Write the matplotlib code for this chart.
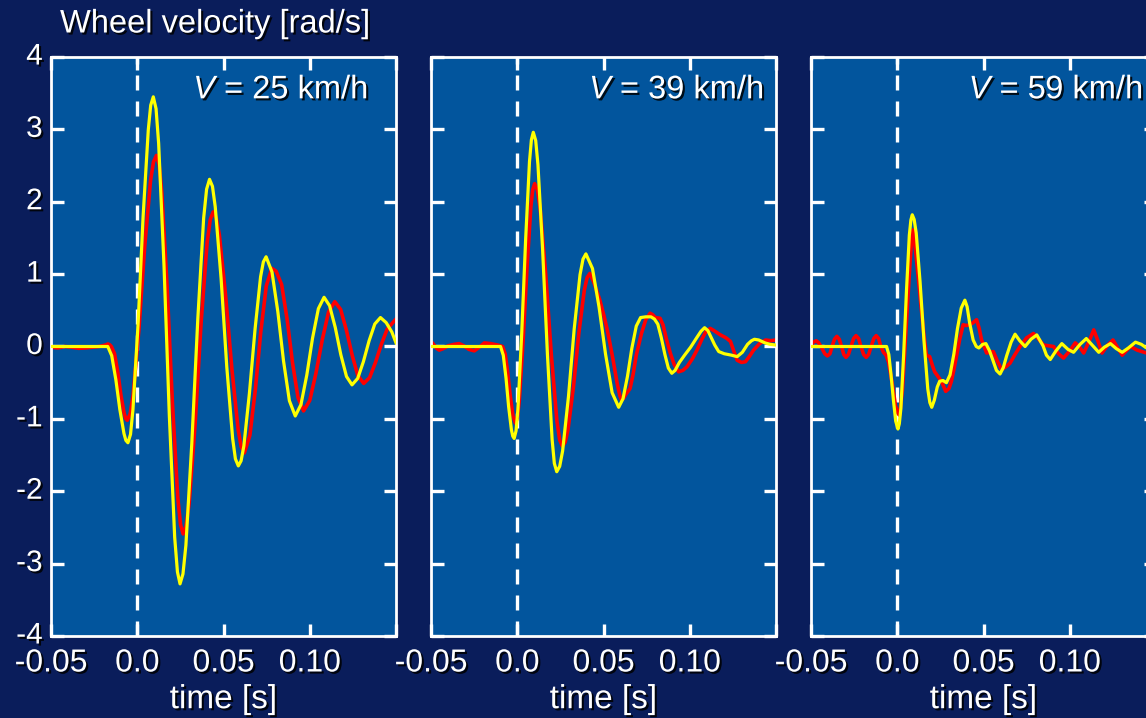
import numpy as np
import matplotlib
matplotlib.use('Agg')
import matplotlib.pyplot as plt
import matplotlib.patheffects as pe
import matplotlib.transforms as mtrans

plt.rcParams['font.family'] = ['Liberation Sans', 'DejaVu Sans']
plt.rcParams['mathtext.fontset'] = 'custom'
plt.rcParams['mathtext.rm'] = 'Liberation Sans'
plt.rcParams['mathtext.it'] = 'Liberation Sans:italic'

# speed of each panel [km/h]
speeds = [25, 39, 59]

# (time [s], wheel velocity [rad/s])
red_25 = np.array([
    (-0.05, -0.01), (-0.046, -0.02), (-0.042, 0.0), (-0.038, -0.01), (-0.034, -0.025),
    (-0.03, -0.02), (-0.026, -0.01), (-0.022, 0.0), (-0.0185, 0.02), (-0.017, 0.035),
    (-0.016, 0.025), (-0.015, 0.0), (-0.0132, -0.097), (-0.0113, -0.352), (-0.0095, -0.668),
    (-0.0076, -0.923), (-0.0067, -0.995), (-0.0058, -1.02), (-0.0041, -0.93), (-0.0024, -0.67),
    (0.001, 0.245), (0.0043, 1.375), (0.0077, 2.291), (0.0094, 2.55), (0.0111, 2.64),
    (0.0127, 2.512), (0.0142, 2.141), (0.0173, 0.833), (0.0204, -0.783), (0.0235, -2.091),
    (0.0251, -2.462), (0.0266, -2.59), (0.0283, -2.481), (0.0301, -2.165), (0.0336, -1.053),
    (0.037, 0.323), (0.0405, 1.435), (0.0423, 1.751), (0.044, 1.86), (0.0458, 1.778),
    (0.0476, 1.542), (0.0512, 0.709), (0.0549, -0.319), (0.0585, -1.152), (0.0603, -1.388),
    (0.0621, -1.47), (0.0653, -1.226), (0.0685, -0.589), (0.0716, 0.199), (0.0748, 0.836),
    (0.078, 1.08), (0.0805, 1.04), (0.0837, 0.856), (0.0869, 0.373), (0.09, -0.223),
    (0.0932, -0.706), (0.0964, -0.89), (0.1, -0.746), (0.1036, -0.368), (0.1073, 0.098),
    (0.1109, 0.476), (0.1145, 0.62), (0.1179, 0.512), (0.1212, 0.23), (0.1246, -0.12),
    (0.1279, -0.402), (0.1313, -0.51), (0.1347, -0.43), (0.1381, -0.22), (0.1415, 0.03),
    (0.1449, 0.24), (0.15, 0.38)])
yel_25 = np.array([
    (-0.05, 0.0), (-0.03, 0.0), (-0.0171, 0.0), (-0.0148, -0.127), (-0.0124, -0.46),
    (-0.0101, -0.87), (-0.0077, -1.203), (-0.0066, -1.297), (-0.0054, -1.33), (-0.0039, -1.213),
    (-0.0025, -0.874), (0.0005, 0.321), (0.0034, 1.799), (0.0064, 2.994), (0.0078, 3.333),
    (0.0093, 3.45), (0.0109, 3.285), (0.0124, 2.807), (0.0155, 1.125), (0.0186, -0.955),
    (0.0217, -2.637), (0.0233, -3.115), (0.0248, -3.28), (0.0265, -3.143), (0.0282, -2.746),
    (0.0316, -1.349), (0.0351, 0.379), (0.0385, 1.776), (0.0402, 2.173), (0.0419, 2.31),
    (0.0436, 2.213), (0.0452, 1.932), (0.0486, 0.942), (0.0519, -0.282), (0.0553, -1.272),
    (0.0569, -1.553), (0.0586, -1.65), (0.0602, -1.579), (0.0618, -1.374), (0.065, -0.652),
    (0.0683, 0.242), (0.0715, 0.964), (0.0731, 1.169), (0.0747, 1.24), (0.0781, 1.03),
    (0.0815, 0.48), (0.0848, -0.2), (0.0882, -0.75), (0.0916, -0.96), (0.0949, -0.803),
    (0.0983, -0.393), (0.1016, 0.113), (0.105, 0.523), (0.1083, 0.68), (0.1115, 0.564),
    (0.1148, 0.262), (0.118, -0.112), (0.1213, -0.414), (0.1245, -0.53), (0.1278, -0.441),
    (0.1311, -0.209), (0.1344, 0.079), (0.1377, 0.311), (0.141, 0.40), (0.1443, 0.33),
    (0.1476, 0.2), (0.15, 0.05)])

red_39 = np.array([
    (-0.05, 0.07), (-0.0485, 0.03), (-0.0465, -0.03), (-0.0452, -0.05), (-0.043, -0.03),
    (-0.04, 0.01), (-0.0365, 0.03), (-0.0336, 0.04), (-0.031, 0.01), (-0.028, -0.04),
    (-0.0249, -0.06), (-0.022, -0.01), (-0.019, 0.05), (-0.0155, 0.04), (-0.0113, 0.02),
    (-0.0085, 0.0), (-0.007, -0.101), (-0.0055, -0.366), (-0.004, -0.694), (-0.0025, -0.959),
    (-0.001, -1.06), (0.0001, -0.979), (0.0012, -0.744), (0.0034, 0.084), (0.0057, 1.106),
    (0.0079, 1.934), (0.009, 2.169), (0.0101, 2.25), (0.0117, 2.161), (0.0133, 1.903),
    (0.0165, 0.996), (0.0198, -0.126), (0.023, -1.033), (0.0246, -1.291), (0.0262, -1.38),
    (0.0278, -1.321), (0.0294, -1.152), (0.0326, -0.554), (0.0357, 0.184), (0.0389, 0.782),
    (0.0405, 0.951), (0.0421, 1.01), (0.0445, 0.88), (0.0465, 0.74), (0.0479, 0.64),
    (0.05, 0.45), (0.0518, 0.27), (0.0537, 0.05), (0.0556, -0.19), (0.058, -0.52),
    (0.0595, -0.68), (0.0605, -0.74), (0.0615, -0.72), (0.063, -0.66), (0.0654, -0.58),
    (0.0672, -0.38), (0.069, -0.12), (0.0702, 0.0), (0.072, 0.18), (0.0745, 0.37),
    (0.077, 0.46), (0.0785, 0.44), (0.08, 0.40), (0.0828, 0.39), (0.0845, 0.3),
    (0.0865, 0.1), (0.0887, -0.09), (0.091, -0.25), (0.0935, -0.35), (0.096, -0.33),
    (0.0984, -0.28), (0.1015, -0.17), (0.1042, -0.05), (0.107, 0.1), (0.1095, 0.21),
    (0.1119, 0.25), (0.114, 0.22), (0.1178, 0.16), (0.121, 0.12), (0.1236, 0.07),
    (0.1255, -0.06), (0.1275, -0.19), (0.13, -0.22), (0.1323, -0.21), (0.1345, -0.14),
    (0.137, -0.05), (0.1405, 0.04), (0.144, 0.09), (0.147, 0.08), (0.15, 0.09)])
yel_39 = np.array([
    (-0.05, 0.0), (-0.03, 0.0), (-0.0097, 0.0), (-0.0081, -0.121), (-0.0065, -0.439),
    (-0.005, -0.831), (-0.0034, -1.149), (-0.0026, -1.239), (-0.0018, -1.27), (-0.0007, -1.166),
    (0.0004, -0.866), (0.0026, 0.191), (0.0049, 1.498), (0.0071, 2.556), (0.0082, 2.856),
    (0.0093, 2.96), (0.0107, 2.845), (0.012, 2.512), (0.0147, 1.34), (0.0175, -0.11),
    (0.0202, -1.282), (0.0215, -1.615), (0.0229, -1.73), (0.0246, -1.656), (0.0263, -1.443),
    (0.0297, -0.69), (0.033, 0.24), (0.0364, 0.993), (0.0381, 1.206), (0.0398, 1.28),
    (0.0436, 1.078), (0.0474, 0.548), (0.0512, -0.108), (0.055, -0.638), (0.0588, -0.84),
    (0.0613, -0.722), (0.0639, -0.412), (0.0664, -0.028), (0.069, 0.282), (0.0715, 0.40),
    (0.0745, 0.41), (0.0775, 0.41), (0.0795, 0.38), (0.0815, 0.308), (0.0835, 0.121),
    (0.0856, -0.111), (0.0876, -0.298), (0.0896, -0.37), (0.0915, -0.33), (0.094, -0.22),
    (0.097, -0.12), (0.1005, -0.01), (0.104, 0.12), (0.1065, 0.21), (0.1086, 0.26),
    (0.1105, 0.22), (0.1125, 0.12), (0.1145, 0.02), (0.1168, -0.07), (0.12, -0.1),
    (0.1242, -0.12), (0.1275, -0.14), (0.1305, -0.08), (0.1335, 0.03), (0.1358, 0.08),
    (0.1375, 0.10), (0.14, 0.09), (0.1436, 0.05), (0.1465, 0.03), (0.15, 0.02)])

red_59 = np.array([
    (-0.05, 0.02), (-0.0485, 0.06), (-0.047, 0.08), (-0.0455, 0.05), (-0.0438, -0.02),
    (-0.042, -0.10), (-0.0405, -0.13), (-0.039, -0.10), (-0.0378, 0.0), (-0.0364, 0.10),
    (-0.035, 0.14), (-0.0336, 0.10), (-0.0323, 0.0), (-0.031, -0.11), (-0.0297, -0.15),
    (-0.0283, -0.11), (-0.0268, 0.0), (-0.0253, 0.11), (-0.0239, 0.15), (-0.0224, 0.11),
    (-0.021, 0.0), (-0.0195, -0.11), (-0.018, -0.15), (-0.0166, -0.11), (-0.0151, 0.0),
    (-0.0136, 0.11), (-0.0122, 0.15), (-0.0108, 0.11), (-0.0095, 0.0), (-0.008, -0.08),
    (-0.0065, -0.12), (-0.005, -0.22), (-0.003, -0.5), (-0.001, -0.82), (0.0005, -0.93),
    (0.0014, -0.95), (0.003, -0.6), (0.0045, 0.0), (0.006, 0.6), (0.0075, 1.2),
    (0.0085, 1.52), (0.0091, 1.61), (0.0105, 1.35), (0.0122, 0.95), (0.014, 0.51),
    (0.0155, 0.15), (0.0169, -0.12), (0.0188, -0.14), (0.0205, -0.27), (0.0217, -0.35),
    (0.0256, -0.48), (0.0281, -0.62), (0.03, -0.58), (0.0314, -0.48), (0.033, -0.3),
    (0.0343, -0.14), (0.0362, 0.1), (0.0382, 0.30), (0.04, 0.29), (0.0421, 0.30),
    (0.044, 0.33), (0.046, 0.37), (0.0475, 0.25), (0.0489, 0.09), (0.0518, -0.09),
    (0.0557, -0.07), (0.058, -0.2), (0.0605, -0.32), (0.063, -0.28), (0.0654, -0.23),
    (0.068, -0.12), (0.0712, 0.0), (0.075, 0.12), (0.079, 0.18), (0.082, 0.1),
    (0.0848, 0.02), (0.0906, 0.0), (0.0935, -0.1), (0.0964, -0.16), (0.1, -0.06),
    (0.1032, 0.05), (0.1055, 0.0), (0.1081, -0.09), (0.111, 0.06), (0.1139, 0.23),
    (0.1163, 0.08), (0.1187, -0.09), (0.122, 0.02), (0.1251, 0.09), (0.1278, -0.02),
    (0.1304, -0.12), (0.1352, 0.0), (0.1391, -0.05), (0.1445, -0.09), (0.15, -0.05)])
yel_59 = np.array([
    (-0.05, 0.0), (-0.03, 0.0), (-0.0062, 0.0), (-0.0049, -0.109), (-0.0036, -0.394),
    (-0.0022, -0.746), (-0.0009, -1.031), (0.0004, -1.14), (0.0012, -1.067), (0.0021, -0.857),
    (0.0037, -0.117), (0.0054, 0.797), (0.007, 1.537), (0.0079, 1.747), (0.0087, 1.82),
    (0.0098, 1.755), (0.011, 1.566), (0.0132, 0.901), (0.0155, 0.079), (0.0177, -0.586),
    (0.0189, -0.775), (0.02, -0.84), (0.0215, -0.74), (0.0232, -0.56), (0.0246, -0.48),
    (0.0265, -0.47), (0.0285, -0.50), (0.0306, -0.391), (0.0328, -0.106), (0.0349, 0.246),
    (0.0371, 0.531), (0.0392, 0.64), (0.0405, 0.55), (0.042, 0.32), (0.044, 0.09),
    (0.0458, 0.0), (0.0473, -0.02), (0.0495, 0.03), (0.0514, 0.04), (0.0535, -0.06),
    (0.0553, -0.18), (0.0575, -0.33), (0.0596, -0.38), (0.0615, -0.29), (0.0634, -0.13),
    (0.066, 0.06), (0.0683, 0.17), (0.071, 0.08), (0.0741, 0.0), (0.0775, 0.1),
    (0.0809, 0.16), (0.0845, 0.01), (0.0865, -0.12), (0.0887, -0.18), (0.092, -0.06),
    (0.0954, 0.04), (0.099, -0.04), (0.1022, -0.08), (0.106, 0.03), (0.1096, 0.11),
    (0.113, 0.02), (0.1168, -0.08), (0.12, -0.01), (0.1236, 0.04), (0.127, -0.03),
    (0.1304, -0.08), (0.134, -0.02), (0.1381, 0.06), (0.1415, 0.03), (0.1445, -0.02),
    (0.15, -0.03)])

red_series = [red_25, red_39, red_59]
yel_series = [yel_25, yel_39, yel_59]

x_ticks = [-0.05, 0.0, 0.05, 0.10, 0.15]
x_labels = ['-0.05', '0.0', '0.05', '0.10', '']
y_ticks = [-4, -3, -2, -1, 0, 1, 2, 3, 4]
y_labels = ['-4', '-3', '-2', '-1', '0', '1', '2', '3', '4']

bg = '#0a1d5b'
face = '#02559d'
shadow = [pe.withSimplePatchShadow(offset=(1.5, -1.5), shadow_rgbFace='black', alpha=0.85)]

W, H = 1146, 718
fig = plt.figure(figsize=(W / 100, H / 100), dpi=100)
fig.set_facecolor(bg)

lefts = [51, 431, 811]
label_x = [0.919, 0.965, 0.962]
for i, spd in enumerate(speeds):
    ax = fig.add_axes([lefts[i] / W, (H - 636) / H, 345 / W, 579 / H])
    ax.set_facecolor(face)
    ax.axvline(0, color='white', lw=2.4, dashes=(4.5, 3.3), zorder=1)
    r = red_series[i]
    y = yel_series[i]
    ax.plot(r[:, 0], r[:, 1], color='#ff0000', lw=2.6, zorder=2, solid_joinstyle='round')
    ax.plot(y[:, 0], y[:, 1], color='#ffff00', lw=2.3, zorder=3, solid_joinstyle='round')
    ax.set_xlim(-0.05, 0.15)
    ax.set_ylim(-4, 4)
    ax.set_xticks(x_ticks)
    ax.set_xticklabels(x_labels)
    ax.set_yticks(y_ticks)
    ax.set_yticklabels(y_labels)
    ax.tick_params(direction='in', length=9, width=2.4, colors='white',
                   top=True, right=True, labelsize=23)
    ax.tick_params(axis='x', pad=9)
    ax.tick_params(axis='y', pad=6, labelsize=21.5)
    if i > 0:
        ax.tick_params(axis='y', labelleft=False)
    for s in ax.spines.values():
        s.set_color('white')
        s.set_linewidth(2)
    # y labels sit a touch above their ticks in the original
    up = mtrans.ScaledTranslation(0, 2.5 / 72, fig.dpi_scale_trans)
    for lab in ax.get_yticklabels():
        lab.set_transform(lab.get_transform() + up)
    for lab in ax.get_xticklabels() + ax.get_yticklabels():
        lab.set_path_effects(shadow)
    ax.text(label_x[i], 0.943, r'$V$ = %d km/h' % spd, transform=ax.transAxes,
            ha='right', va='center', color='white', fontsize=23.5, path_effects=shadow)
    ax.text(0.5, -0.11, 'time [s]', transform=ax.transAxes, ha='center', va='center',
            color='white', fontsize=24, path_effects=shadow)

fig.text(60 / W, 1 - 24 / H, 'Wheel velocity [rad/s]', ha='left', va='center',
         color='white', fontsize=23.5, path_effects=shadow)

fig.savefig('out.png', dpi=100, facecolor=bg)
